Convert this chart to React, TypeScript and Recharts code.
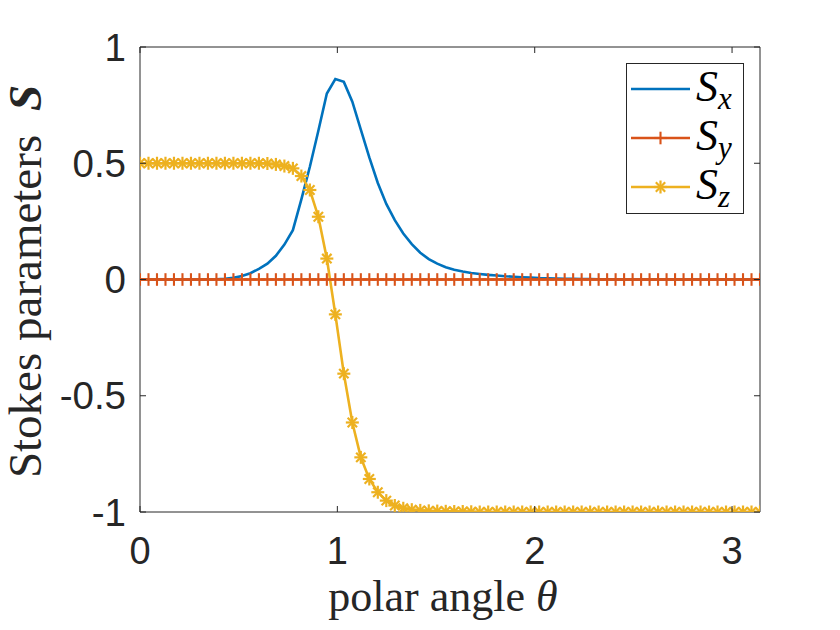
import { LineChart, Line, XAxis, YAxis, Legend } from 'recharts';

// polar angle samples (linspace 0..pi, 74 points)
const SAMPLE_COUNT = 74;
const THETA = Array.from({ length: SAMPLE_COUNT }, (_, i) => (i * Math.PI) / (SAMPLE_COUNT - 1));

// Stokes parameters
const SX = [
  0, 0, 0, 0, 0, 0, 0, 0, 0, 0.001,
  0.003, 0.007, 0.015, 0.027, 0.046, 0.068, 0.102, 0.15, 0.212, 0.345,
  0.485, 0.64, 0.8, 0.862, 0.85, 0.765, 0.645, 0.525, 0.415, 0.325,
  0.255, 0.198, 0.152, 0.115, 0.088, 0.068, 0.053, 0.042, 0.034, 0.028,
  0.024, 0.02, 0.017, 0.014, 0.012, 0.01, 0.008, 0.006, 0.005, 0.004,
  0.003, 0.003, 0.002, 0.002, 0.001, 0.001, 0, 0, 0, 0,
  0, 0, 0, 0, 0, 0, 0, 0, 0, 0,
  0, 0, 0, 0,
];
const SY = [
  0, 0, 0, 0, 0, 0, 0, 0, 0, 0,
  0, 0, 0, 0, 0, 0, 0, 0, 0, 0,
  0, 0, 0, 0, 0, 0, 0, 0, 0, 0,
  0, 0, 0, 0, 0, 0, 0, 0, 0, 0,
  0, 0, 0, 0, 0, 0, 0, 0, 0, 0,
  0, 0, 0, 0, 0, 0, 0, 0, 0, 0,
  0, 0, 0, 0, 0, 0, 0, 0, 0, 0,
  0, 0, 0, 0,
];
const SZ = [
  0.5, 0.5, 0.5, 0.5, 0.5, 0.5, 0.5, 0.5, 0.5, 0.5,
  0.5, 0.5, 0.5, 0.5, 0.5, 0.499, 0.495, 0.488, 0.478, 0.445,
  0.385, 0.27, 0.09, -0.15, -0.405, -0.615, -0.765, -0.858, -0.915, -0.951,
  -0.972, -0.984, -0.99, -0.993, -0.995, -0.996, -0.997, -0.998, -0.998, -0.999,
  -1, -1, -1, -1, -1, -1, -1, -1, -1, -1,
  -1, -1, -1, -1, -1, -1, -1, -1, -1, -1,
  -1, -1, -1, -1, -1, -1, -1, -1, -1, -1,
  -1, -1, -1, -1,
];

const X_TICKS = [0, 1, 2, 3];
const Y_TICKS = [-1, -0.5, 0, 0.5, 1];
const SERIES_SUBS = ['x', 'y', 'z'];

const COLORS = { sx: '#0072BD', sy: '#D95319', sz: '#EDB120' };
const AXIS_COLOR = '#262626';
const SANS = '"Liberation Sans", Arial, sans-serif';
const SERIF = '"Liberation Serif", "Times New Roman", serif';

const data = THETA.map((theta, i) => ({ theta, sx: SX[i], sy: SY[i], sz: SZ[i] }));

function PlusShape({ cx, cy, color }: { cx: number; cy: number; color: string }) {
  const r = 6.3;
  return (
    <g stroke={color} strokeWidth={2.1}>
      <line x1={cx - r} x2={cx + r} y1={cy} y2={cy} />
      <line x1={cx} x2={cx} y1={cy - r} y2={cy + r} />
    </g>
  );
}

function StarShape({ cx, cy, color }: { cx: number; cy: number; color: string }) {
  const r = 6.5;
  const d = r * 0.72;
  return (
    <g stroke={color} strokeWidth={2.2}>
      <line x1={cx - r} x2={cx + r} y1={cy} y2={cy} />
      <line x1={cx} x2={cx} y1={cy - r} y2={cy + r} />
      <line x1={cx - d} x2={cx + d} y1={cy - d} y2={cy + d} />
      <line x1={cx - d} x2={cx + d} y1={cy + d} y2={cy - d} />
    </g>
  );
}

const renderPlus = (props: any) => (
  <PlusShape key={`p-${props.index}`} cx={props.cx} cy={props.cy} color={COLORS.sy} />
);
const renderStar = (props: any) => (
  <StarShape key={`s-${props.index}`} cx={props.cx} cy={props.cy} color={COLORS.sz} />
);

function XTick({ x, y, payload }: any) {
  return (
    <g>
      <line x1={x} x2={x} y1={y} y2={y - 6} stroke={AXIS_COLOR} />
      <text x={x} y={y + 52} textAnchor="middle" fontFamily={SANS} fontSize={38} fill={AXIS_COLOR}>
        {String(payload.value)}
      </text>
    </g>
  );
}

function TopTick({ x, y }: any) {
  return <line x1={x} x2={x} y1={y} y2={y + 6} stroke={AXIS_COLOR} />;
}

function YTick({ x, y, payload }: any) {
  return (
    <g>
      <line x1={x} x2={x + 6} y1={y} y2={y} stroke={AXIS_COLOR} />
      <text x={x - 14} y={y + 13.5} textAnchor="end" fontFamily={SANS} fontSize={38.5} fill={AXIS_COLOR}>
        {String(payload.value)}
      </text>
    </g>
  );
}

function RightTick({ x, y }: any) {
  return <line x1={x} x2={x - 6} y1={y} y2={y} stroke={AXIS_COLOR} />;
}

function XTitle(props: any) {
  const { x, y, width } = props.viewBox;
  return (
    <text x={x + width / 2 - 7} y={y + 99} textAnchor="middle" fontFamily={SERIF} fontSize={44} fill={AXIS_COLOR}>
      polar angle <tspan fontStyle="italic">θ</tspan>
    </text>
  );
}

function YTitle(props: any) {
  const { y, height } = props.viewBox;
  const cx = 41;
  const cy = y + height / 2 + 2;
  return (
    <text
      x={cx}
      y={cy}
      transform={`rotate(-90, ${cx}, ${cy})`}
      textAnchor="middle"
      fontFamily={SERIF}
      fontSize={47}
      fill={AXIS_COLOR}
    >
      Stokes parameters{' '}
      <tspan dx={12} fontWeight="bold" fontStyle="italic">S</tspan>
    </text>
  );
}

function StokesLegend({ payload }: any) {
  const items = payload ?? [];
  return (
    <svg width={118} height={151} style={{ display: 'block' }}>
      <rect x={0.5} y={0.5} width={117} height={150} fill="#fff" stroke={AXIS_COLOR} />
      {items.map((item: any, i: number) => {
        const y = 26 + i * 49;
        return (
          <g key={item.dataKey}>
            <line x1={5} x2={64} y1={y} y2={y} stroke={item.color} strokeWidth={2.4} />
            {item.dataKey === 'sy' && <PlusShape cx={34.5} cy={y} color={item.color} />}
            {item.dataKey === 'sz' && <StarShape cx={34.5} cy={y} color={item.color} />}
            <text x={70} y={y + 12} fontFamily={SERIF} fontStyle="italic" fontSize={44} fill="#000">
              S
              <tspan fontSize={31} dy={8}>{SERIES_SUBS[i]}</tspan>
            </text>
          </g>
        );
      })}
    </svg>
  );
}

export default function App() {
  return (
    <div style={{ position: 'absolute', left: 0, top: 0, width: 840, height: 630, background: '#fff' }}>
      <LineChart width={840} height={630} data={data} margin={{ top: 46, right: 79, bottom: 0, left: 0 }}>
        <XAxis
          dataKey="theta"
          type="number"
          domain={[0, Math.PI]}
          ticks={X_TICKS}
          interval={0}
          height={118}
          tickSize={0}
          tickMargin={0}
          tickLine={false}
          axisLine={{ stroke: AXIS_COLOR }}
          tick={XTick}
          allowDataOverflow
          label={{ content: XTitle }}
        />
        <XAxis
          xAxisId="top"
          orientation="top"
          dataKey="theta"
          type="number"
          domain={[0, Math.PI]}
          ticks={X_TICKS}
          interval={0}
          height={1}
          tickSize={0}
          tickMargin={0}
          tickLine={false}
          axisLine={{ stroke: AXIS_COLOR }}
          tick={TopTick}
          allowDataOverflow
        />
        <YAxis
          type="number"
          domain={[-1, 1]}
          ticks={Y_TICKS}
          interval={0}
          width={140}
          tickSize={0}
          tickMargin={0}
          tickLine={false}
          axisLine={{ stroke: AXIS_COLOR }}
          tick={YTick}
          allowDataOverflow
          label={{ content: YTitle }}
        />
        <YAxis
          yAxisId="right"
          orientation="right"
          type="number"
          domain={[-1, 1]}
          ticks={Y_TICKS}
          interval={0}
          width={1}
          tickSize={0}
          tickMargin={0}
          tickLine={false}
          axisLine={{ stroke: AXIS_COLOR }}
          tick={RightTick}
          allowDataOverflow
        />
        <Line
          dataKey="sx"
          name="Sx"
          type="linear"
          stroke={COLORS.sx}
          strokeWidth={2.6}
          dot={false}
          activeDot={false}
          isAnimationActive={false}
        />
        <Line
          dataKey="sy"
          name="Sy"
          type="linear"
          stroke={COLORS.sy}
          strokeWidth={2.6}
          dot={renderPlus}
          activeDot={false}
          isAnimationActive={false}
        />
        <Line
          dataKey="sz"
          name="Sz"
          type="linear"
          stroke={COLORS.sz}
          strokeWidth={2.6}
          dot={renderStar}
          activeDot={false}
          isAnimationActive={false}
        />
        <Legend
          layout="vertical"
          align="center"
          verticalAlign="middle"
          wrapperStyle={{ left: 626, top: 63, width: 118, height: 151 }}
          content={StokesLegend}
        />
      </LineChart>
    </div>
  );
}
